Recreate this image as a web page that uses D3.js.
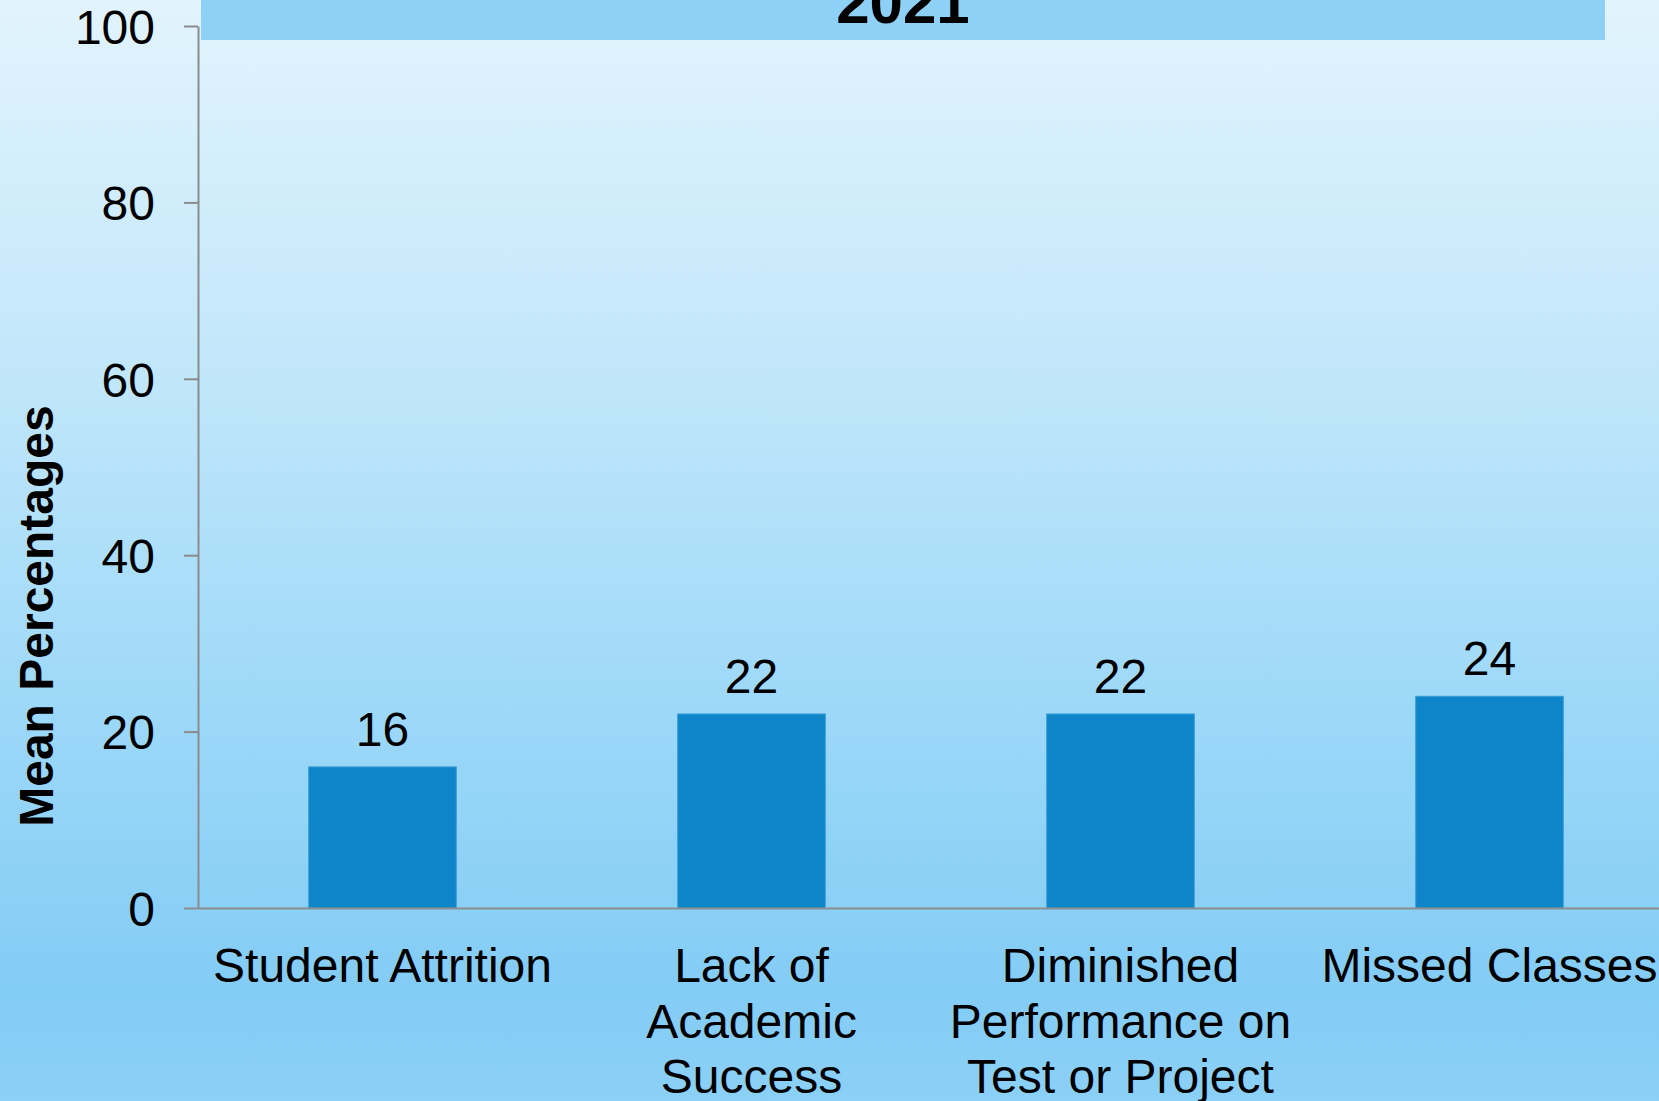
<!DOCTYPE html>
<html>
<head>
<meta charset="utf-8">
<script src="https://cdn.jsdelivr.net/npm/d3@7"></script>
<style>
  body { margin: 0; overflow: hidden; }
  text { font-family: "Liberation Sans", Arial, sans-serif; fill: #000; }
</style>
</head>
<body>
<div id="chart"></div>
<script>
// chart data
let categories = ["Student Attrition", "Lack of Academic Success", "Diminished Performance on Test or Project", "Missed Classes"];
let categoryLines = [
  ["Student Attrition"],
  ["Lack of", "Academic", "Success"],
  ["Diminished", "Performance on", "Test or Project"],
  ["Missed Classes"]
];
let meanValues = [16, 22, 22, 24];
let yTicks = [0, 20, 40, 60, 80, 100];
let chartTitle = "2021";
let yTitle = "Mean Percentages";

let svgWidth = 1659;
let svgHeight = 1101;

let svg = d3.select("#chart")
  .append("svg")
  .attr("width", svgWidth)
  .attr("height", svgHeight);

// background gradient
let defs = svg.append("defs");
let grad = defs.append("linearGradient")
  .attr("id", "bg")
  .attr("x1", 0).attr("y1", 0)
  .attr("x2", 0).attr("y2", 1);
grad.append("stop").attr("offset", "0%").attr("stop-color", "#e2f4fd");
grad.append("stop").attr("offset", "35%").attr("stop-color", "#c0e6fa");
grad.append("stop").attr("offset", "65%").attr("stop-color", "#9cd8f8");
grad.append("stop").attr("offset", "90%").attr("stop-color", "#83ccf5");
grad.append("stop").attr("offset", "100%").attr("stop-color", "#8bd0f6");

svg.append("rect")
  .attr("width", svgWidth)
  .attr("height", svgHeight)
  .attr("fill", "url(#bg)");

// scales
let x = d3.scaleBand()
  .domain(categories)
  .range([198, 1674])
  .paddingInner(0.6)
  .paddingOuter(0.3);

let y = d3.scaleLinear()
  .domain([0, 100])
  .range([908, 26]);

// title banner
svg.append("rect")
  .attr("x", 201)
  .attr("y", 0)
  .attr("width", 1404)
  .attr("height", 40)
  .attr("fill", "#8fd1f6");

svg.append("text")
  .attr("x", 903)
  .attr("y", 23)
  .attr("text-anchor", "middle")
  .attr("font-size", "60px")
  .attr("font-weight", "bold")
  .text(chartTitle);

// bars
svg.selectAll(".bar")
  .data(meanValues)
  .enter()
  .append("rect")
  .attr("class", "bar")
  .attr("x", (d, i) => x(categories[i]))
  .attr("y", d => y(d))
  .attr("width", x.bandwidth())
  .attr("height", d => y(0) - y(d))
  .attr("fill", "#0e85c8")
  .attr("stroke", "#3a9dd5")
  .attr("stroke-width", 1);

// value labels
svg.selectAll(".val")
  .data(meanValues)
  .enter()
  .append("text")
  .attr("class", "val")
  .attr("x", (d, i) => x(categories[i]) + x.bandwidth() / 2)
  .attr("y", d => y(d) - 21)
  .attr("text-anchor", "middle")
  .attr("font-size", "48px")
  .text(d => d);

// y axis
let yAxis = svg.append("g")
  .attr("transform", "translate(198,0)")
  .call(d3.axisLeft(y).tickValues(yTicks).tickSize(14).tickSizeOuter(0).tickPadding(29));
yAxis.select(".domain").attr("stroke", "#8c8c8c").attr("stroke-width", 2);
yAxis.selectAll(".tick line").attr("stroke", "#8c8c8c").attr("stroke-width", 2);
yAxis.selectAll(".tick text")
  .attr("font-size", "48px")
  .attr("font-family", "Liberation Sans, Arial, sans-serif")
  .attr("fill", "#000")
  .attr("dy", "0.36em");

// x axis
let xAxis = svg.append("g")
  .attr("transform", "translate(0,908)")
  .call(d3.axisBottom(x).tickSize(0).tickSizeOuter(0).tickFormat(""));
xAxis.select(".domain").attr("stroke", "#8c8c8c").attr("stroke-width", 2);

// category labels
let catLabels = svg.selectAll(".cat")
  .data(categoryLines)
  .enter()
  .append("text")
  .attr("class", "cat")
  .attr("font-size", "48px")
  .attr("text-anchor", "middle")
  .attr("transform", (d, i) => `translate(${x(categories[i]) + x.bandwidth() / 2}, 982)`);

catLabels.selectAll("tspan")
  .data(d => d)
  .enter()
  .append("tspan")
  .attr("x", 0)
  .attr("y", (d, i) => i * 55.5)
  .text(d => d);

// y axis title
svg.append("text")
  .attr("transform", "translate(53, 616) rotate(-90)")
  .attr("text-anchor", "middle")
  .attr("font-size", "48px")
  .attr("font-weight", "bold")
  .text(yTitle);
</script>
</body>
</html>
